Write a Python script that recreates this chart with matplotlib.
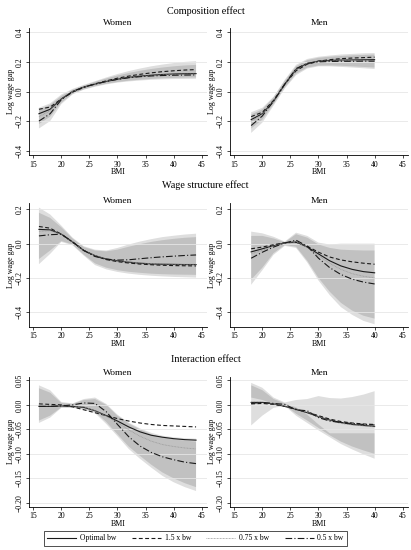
import matplotlib.pyplot as plt
from matplotlib.lines import Line2D

plt.rcParams["font.family"] = "Liberation Serif"
plt.rcParams["axes.unicode_minus"] = True

# BMI points where the estimates were read off
BMI_WOMEN = [16, 18, 20, 22, 24, 26, 28, 30, 32, 34, 36, 38, 40, 42, 44]
BMI_MEN = [18, 20, 22, 24, 26, 28, 30, 32, 34, 36, 38, 40]

# ---- composition effect, women
COMP_W_OPT = [-0.15, -0.12, -0.05, 0.0, 0.03, 0.05, 0.068, 0.083, 0.095, 0.104, 0.11, 0.115, 0.118, 0.12, 0.121]
COMP_W_15 = [-0.12, -0.105, -0.05, -0.005, 0.028, 0.052, 0.072, 0.09, 0.104, 0.116, 0.126, 0.134, 0.14, 0.145, 0.148]
COMP_W_075 = [-0.17, -0.13, -0.05, 0.0, 0.03, 0.05, 0.068, 0.083, 0.094, 0.102, 0.108, 0.112, 0.115, 0.117, 0.118]
COMP_W_05 = [-0.2, -0.15, -0.055, 0.0, 0.03, 0.05, 0.068, 0.082, 0.093, 0.1, 0.105, 0.108, 0.11, 0.111, 0.112]
COMP_W_CIA_HI = [-0.11, -0.08, -0.02, 0.018, 0.045, 0.07, 0.095, 0.118, 0.138, 0.155, 0.17, 0.182, 0.192, 0.2, 0.205]
COMP_W_CIA_LO = [-0.25, -0.2, -0.085, -0.02, 0.012, 0.032, 0.048, 0.06, 0.068, 0.074, 0.079, 0.082, 0.084, 0.085, 0.086]
COMP_W_CIB_HI = [-0.12, -0.09, -0.03, 0.012, 0.04, 0.065, 0.088, 0.108, 0.125, 0.14, 0.152, 0.162, 0.17, 0.176, 0.18]
COMP_W_CIB_LO = [-0.22, -0.17, -0.075, -0.015, 0.015, 0.036, 0.052, 0.064, 0.073, 0.08, 0.085, 0.089, 0.092, 0.094, 0.095]

# ---- composition effect, men
COMP_M_OPT = [-0.19, -0.15, -0.065, 0.05, 0.15, 0.19, 0.205, 0.21, 0.212, 0.213, 0.214, 0.215]
COMP_M_15 = [-0.17, -0.14, -0.06, 0.05, 0.14, 0.185, 0.205, 0.215, 0.222, 0.226, 0.229, 0.232]
COMP_M_075 = [-0.2, -0.155, -0.065, 0.05, 0.15, 0.19, 0.203, 0.207, 0.208, 0.208, 0.209, 0.21]
COMP_M_05 = [-0.23, -0.165, -0.065, 0.05, 0.155, 0.19, 0.2, 0.203, 0.204, 0.204, 0.205, 0.205]
COMP_M_CIA_HI = [-0.14, -0.11, -0.035, 0.08, 0.18, 0.22, 0.235, 0.243, 0.25, 0.254, 0.258, 0.26]
COMP_M_CIA_LO = [-0.28, -0.21, -0.095, 0.02, 0.11, 0.155, 0.17, 0.17, 0.166, 0.162, 0.157, 0.152]
COMP_M_CIB_HI = [-0.155, -0.12, -0.04, 0.072, 0.17, 0.212, 0.228, 0.235, 0.24, 0.244, 0.247, 0.25]
COMP_M_CIB_LO = [-0.25, -0.19, -0.085, 0.028, 0.12, 0.162, 0.175, 0.176, 0.174, 0.17, 0.166, 0.162]

# ---- wage structure effect, women
WAGE_W_OPT = [0.083, 0.08, 0.055, 0.01, -0.04, -0.07, -0.09, -0.1, -0.108, -0.114, -0.118, -0.12, -0.121, -0.122, -0.122]
WAGE_W_15 = [0.1, 0.09, 0.055, 0.008, -0.04, -0.072, -0.093, -0.105, -0.113, -0.119, -0.123, -0.126, -0.128, -0.129, -0.13]
WAGE_W_075 = [0.072, 0.075, 0.055, 0.01, -0.04, -0.07, -0.088, -0.098, -0.106, -0.112, -0.116, -0.118, -0.12, -0.12, -0.12]
WAGE_W_05 = [0.045, 0.052, 0.055, 0.01, -0.04, -0.075, -0.09, -0.096, -0.094, -0.088, -0.082, -0.077, -0.073, -0.069, -0.066]
WAGE_W_CIA_HI = [0.21, 0.17, 0.105, 0.035, -0.015, -0.035, -0.04, -0.025, -0.005, 0.012, 0.026, 0.038, 0.046, 0.053, 0.058]
WAGE_W_CIA_LO = [-0.12, -0.06, 0.01, -0.01, -0.07, -0.125, -0.15, -0.165, -0.175, -0.182, -0.187, -0.191, -0.194, -0.196, -0.198]
WAGE_W_CIB_HI = [0.18, 0.15, 0.095, 0.03, -0.02, -0.04, -0.045, -0.035, -0.018, -0.003, 0.01, 0.02, 0.028, 0.034, 0.038]
WAGE_W_CIB_LO = [-0.09, -0.04, 0.015, -0.005, -0.065, -0.115, -0.14, -0.155, -0.164, -0.17, -0.175, -0.178, -0.18, -0.181, -0.182]

# ---- wage structure effect, men
WAGE_M_OPT = [-0.048, -0.03, -0.012, 0.005, 0.01, -0.02, -0.06, -0.1, -0.13, -0.15, -0.163, -0.17]
WAGE_M_15 = [-0.03, -0.02, -0.006, 0.005, 0.008, -0.015, -0.05, -0.078, -0.095, -0.106, -0.114, -0.12]
WAGE_M_075 = [-0.06, -0.038, -0.015, 0.005, 0.012, -0.022, -0.07, -0.115, -0.15, -0.175, -0.19, -0.2]
WAGE_M_05 = [-0.085, -0.05, -0.02, 0.004, 0.02, -0.015, -0.085, -0.14, -0.18, -0.207, -0.224, -0.235]
WAGE_M_CIA_HI = [0.07, 0.06, 0.04, 0.012, 0.064, 0.045, 0.006, -0.005, 0.0, 0.0, 0.0, 0.0]
WAGE_M_CIA_LO = [-0.24, -0.155, -0.065, -0.013, -0.025, -0.11, -0.215, -0.3, -0.37, -0.415, -0.45, -0.47]
WAGE_M_CIB_HI = [0.045, 0.045, 0.03, 0.008, 0.055, 0.035, -0.005, -0.025, -0.035, -0.038, -0.04, -0.04]
WAGE_M_CIB_LO = [-0.21, -0.14, -0.055, -0.008, -0.018, -0.1, -0.2, -0.28, -0.345, -0.39, -0.42, -0.437]

# ---- interaction effect, women
INTER_W_OPT = [-0.003, -0.003, -0.002, -0.003, -0.005, -0.012, -0.022, -0.033, -0.045, -0.055, -0.062, -0.066, -0.069, -0.071, -0.072]
INTER_W_15 = [0.002, 0.001, 0.0, -0.004, -0.01, -0.016, -0.022, -0.028, -0.033, -0.037, -0.04, -0.042, -0.043, -0.044, -0.045]
INTER_W_075 = [0.0, -0.001, -0.001, -0.002, -0.004, -0.012, -0.023, -0.036, -0.051, -0.064, -0.074, -0.081, -0.085, -0.088, -0.09]
INTER_W_05 = [-0.003, -0.003, -0.002, 0.0, 0.004, 0.003, -0.014, -0.04, -0.065, -0.084, -0.097, -0.106, -0.112, -0.117, -0.12]
INTER_W_CIA_HI = [0.04, 0.03, 0.006, 0.003, 0.012, 0.015, 0.002, -0.02, -0.036, -0.048, -0.057, -0.063, -0.066, -0.068, -0.069]
INTER_W_CIA_LO = [-0.037, -0.026, -0.006, -0.006, -0.01, -0.017, -0.039, -0.064, -0.09, -0.11, -0.128, -0.145, -0.158, -0.168, -0.176]
INTER_W_CIB_HI = [0.034, 0.025, 0.004, 0.002, 0.01, 0.012, 0.0, -0.022, -0.038, -0.05, -0.06, -0.066, -0.07, -0.073, -0.075]
INTER_W_CIB_LO = [-0.032, -0.022, -0.005, -0.005, -0.008, -0.014, -0.035, -0.06, -0.085, -0.104, -0.122, -0.138, -0.15, -0.16, -0.168]

# ---- interaction effect, men
INTER_M_OPT = [0.005, 0.005, 0.002, -0.003, -0.009, -0.016, -0.024, -0.031, -0.036, -0.04, -0.042, -0.044]
INTER_M_15 = [0.002, 0.003, 0.001, -0.003, -0.009, -0.015, -0.022, -0.029, -0.034, -0.037, -0.039, -0.04]
INTER_M_075 = [0.006, 0.006, 0.002, -0.002, -0.008, -0.015, -0.024, -0.032, -0.038, -0.041, -0.043, -0.045]
INTER_M_05 = [0.003, 0.005, 0.003, 0.001, -0.01, -0.012, -0.026, -0.033, -0.036, -0.038, -0.04, -0.041]
INTER_M_CIA_HI = [0.045, 0.035, 0.015, 0.005, 0.01, 0.012, 0.018, 0.014, 0.013, 0.016, 0.021, 0.028]
INTER_M_CIA_LO = [-0.042, -0.022, -0.006, -0.002, -0.022, -0.037, -0.052, -0.066, -0.08, -0.091, -0.101, -0.11]
INTER_M_CIB_HI = [0.04, 0.03, 0.012, 0.003, -0.005, -0.02, -0.04, -0.058, -0.058, -0.058, -0.058, -0.058]
INTER_M_CIB_LO = [0.015, 0.01, 0.002, -0.001, -0.018, -0.032, -0.047, -0.062, -0.075, -0.085, -0.093, -0.1]

BW_LABELS = ["Optimal bw", "1.5 x bw", "0.75 x bw", "0.5 x bw"]
X_TICKS = [15, 20, 25, 30, 35, 40, 45]
Y_TICKS_COMP = [-0.4, -0.2, 0.0, 0.2, 0.4]
Y_TICKS_WAGE = [-0.4, -0.2, 0.0, 0.2]
Y_TICKS_INTER = [-0.20, -0.15, -0.10, -0.05, 0.00, 0.05]

LINE_STYLES = [
    dict(color="#1a1a1a", ls="-", lw=0.8),
    dict(color="#1a1a1a", ls=(0, (3.5, 2.2)), lw=0.8),
    dict(color="#9a9a9a", ls=(0, (1, 0.8)), lw=0.6),
    dict(color="#1a1a1a", ls=(0, (6, 2, 1, 2)), lw=0.8),
]

W, H = 411, 550


def px_rect(left, top, right, bottom):
    return [left / W, 1 - bottom / H, (right - left) / W, (bottom - top) / H]


rows = [
    dict(title="Composition effect", title_y=13.5, sub_y=25, top=28.3, bottom=155,
         ylim=(-0.429, 0.427), yticks=Y_TICKS_COMP, fmt="{:.1f}",
         women=(COMP_W_OPT, COMP_W_15, COMP_W_075, COMP_W_05,
                (COMP_W_CIA_LO, COMP_W_CIA_HI), (COMP_W_CIB_LO, COMP_W_CIB_HI)),
         men=(COMP_M_OPT, COMP_M_15, COMP_M_075, COMP_M_05,
              (COMP_M_CIA_LO, COMP_M_CIA_HI), (COMP_M_CIB_LO, COMP_M_CIB_HI))),
    dict(title="Wage structure effect", title_y=188, sub_y=203, top=203.3, bottom=326.7,
         ylim=(-0.484, 0.235), yticks=Y_TICKS_WAGE, fmt="{:.1f}",
         women=(WAGE_W_OPT, WAGE_W_15, WAGE_W_075, WAGE_W_05,
                (WAGE_W_CIA_LO, WAGE_W_CIA_HI), (WAGE_W_CIB_LO, WAGE_W_CIB_HI)),
         men=(WAGE_M_OPT, WAGE_M_15, WAGE_M_075, WAGE_M_05,
              (WAGE_M_CIA_LO, WAGE_M_CIA_HI), (WAGE_M_CIB_LO, WAGE_M_CIB_HI))),
    dict(title="Interaction effect", title_y=362, sub_y=375, top=376.5, bottom=506.7,
         ylim=(-0.208, 0.058), yticks=Y_TICKS_INTER, fmt="{:.2f}",
         women=(INTER_W_OPT, INTER_W_15, INTER_W_075, INTER_W_05,
                (INTER_W_CIA_LO, INTER_W_CIA_HI), (INTER_W_CIB_LO, INTER_W_CIB_HI)),
         men=(INTER_M_OPT, INTER_M_15, INTER_M_075, INTER_M_05,
              (INTER_M_CIA_LO, INTER_M_CIA_HI), (INTER_M_CIB_LO, INTER_M_CIB_HI))),
]

cols = [("Women", BMI_WOMEN, 29, 207, "women"), ("Men", BMI_MEN, 230, 408, "men")]

fig = plt.figure(figsize=(W / 100, H / 100), dpi=100, facecolor="white")

for row in rows:
    fig.text(0.5, 1 - row["title_y"] / H, row["title"], ha="center", va="baseline", fontsize=7.3)
    for name, bmi, left, right, key in cols:
        ax = fig.add_axes(px_rect(left, row["top"], right, row["bottom"]))
        opt, w15, w075, w05, ci_a, ci_b = row[key]

        # the two confidence bands overlap, so the inner part comes out darker
        for lo, hi in (ci_a, ci_b):
            ax.fill_between(bmi, lo, hi, facecolor="black", alpha=0.13, linewidth=0, zorder=1)
        for series, style in zip((opt, w15, w075, w05), LINE_STYLES):
            ax.plot(bmi, series, zorder=2, **style)

        ax.set_xlim(14.23, 45.95)
        ax.set_ylim(*row["ylim"])
        ax.set_xticks(X_TICKS)
        ax.set_yticks(row["yticks"], [row["fmt"].format(v).replace("-", "\u2212") for v in row["yticks"]])
        for lab in ax.get_yticklabels():
            lab.set_rotation(90)
            lab.set_va("center")

        ax.set_axisbelow("line")
        ax.yaxis.grid(True, color="#e6e6e6", lw=0.6)
        for s in ("top", "right"):
            ax.spines[s].set_visible(False)
        for s in ("left", "bottom"):
            ax.spines[s].set_linewidth(0.6)
        ax.tick_params(labelsize=5.6, length=2.5, width=0.5, pad=1.5)
        ax.set_xlabel("BMI", fontsize=5.8, labelpad=-0.4)
        ax.set_ylabel("Log wage gap", fontsize=5.8, labelpad=0.5)
        ax.set_facecolor("white")

        cx = (left + right) / 2 / W
        fig.text(cx, 1 - row["sub_y"] / H, name, ha="center", va="baseline", fontsize=6.8)

handles = [Line2D([], [], **st) for st in LINE_STYLES]
leg = fig.legend(handles, BW_LABELS, loc="center", bbox_to_anchor=(195.5 / W, 1 - 538.5 / H),
                 ncol=4, fontsize=5.5, frameon=True, fancybox=False, edgecolor="black",
                 handlelength=3.8, handletextpad=0.5, columnspacing=2.0, borderpad=0.45)
leg.get_frame().set_linewidth(0.6)

fig.savefig("out.png", dpi=100, facecolor="white")
